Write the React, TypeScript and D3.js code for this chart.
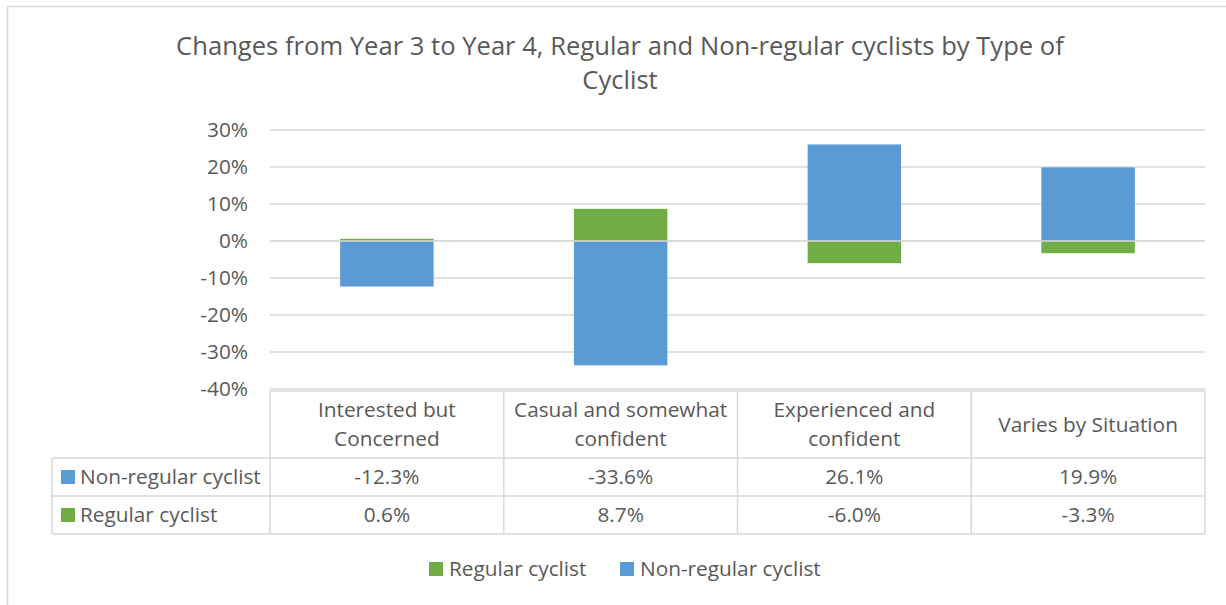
import React from "react";
import * as d3 from "d3";

const categories = [
  ["Interested but", "Concerned"],
  ["Casual and somewhat", "confident"],
  ["Experienced and", "confident"],
  ["Varies by Situation"],
];
const categoryKeys = ["Interested but Concerned", "Casual and somewhat confident", "Experienced and confident", "Varies by Situation"];
const nonRegular = [-0.123, -0.336, 0.261, 0.199];
const regular = [0.006, 0.087, -0.06, -0.033];
const yTicks = [0.3, 0.2, 0.1, 0, -0.1, -0.2, -0.3, -0.4];
const seriesNames = ["Non-regular cyclist", "Regular cyclist"];
const seriesColors = ["#5B9BD5", "#70AD47"];

const FONT = "'Open Sans', sans-serif";
const TXT = "#595959";
const GRID = "#D9D9D9";
const FS = 20.8;
const TFS = 25.6;

const locale = d3.formatLocale({ decimal: ".", thousands: ",", grouping: [3], currency: ["$", ""], minus: "-" });

export default function App() {
  const W = 1226, H = 605;
  const plotL = 270, plotR = 1205, plotT = 130, plotB = 389;
  const x = d3.scaleBand<string>().domain(categoryKeys).range([plotL, plotR]).padding(0);
  const y = d3.scaleLinear().domain([-0.4, 0.3]).range([plotB, plotT]);
  const barW = x.bandwidth() / 2.5;

  const rows = categoryKeys.map((k, i) => ({ key: k, nr: nonRegular[i], r: regular[i] }));
  const stack = d3.stack<any>().keys(["nr", "r"]).offset(d3.stackOffsetDiverging);
  const stacked = stack(rows);
  const pct = locale.format(".1%");
  const tickFmt = locale.format(".0%");

  const tableTop = 391, headBot = 458, row1Bot = 496, row2Bot = 534, tableL = 52;
  const seriesVals = [nonRegular, regular];
  const rowBounds = [[headBot, row1Bot], [row1Bot, row2Bot]];

  return (
    <svg width={W} height={H} style={{ position: "absolute", left: 0, top: 0, background: "#fff" }} fontFamily={FONT}>
      <rect x={7.5} y={6.5} width={1240} height={620} fill="#fff" stroke={GRID} strokeWidth={1.5} />
      <text x={620} y={55} textAnchor="middle" fontSize={TFS} fill={TXT}>
        Changes from Year 3 to Year 4, Regular and Non-regular cyclists by Type of
      </text>
      <text x={620} y={89} textAnchor="middle" fontSize={TFS} fill={TXT}>Cyclist</text>

      {yTicks.map((t) => (
        <g key={t}>
          <line x1={plotL} x2={plotR} y1={y(t)} y2={y(t)} stroke={GRID} strokeWidth={1.5} />
          <text x={248} y={y(t)} dy="0.35em" textAnchor="end" fontSize={FS} fill={TXT}>{tickFmt(t)}</text>
        </g>
      ))}

      {stacked.map((s, si) => (
        <g key={s.key} fill={seriesColors[si]}>
          {s.map((d: any, i: number) => (
            <rect key={i} x={(x(categoryKeys[i]) as number) + (x.bandwidth() - barW) / 2}
              y={y(Math.max(d[0], d[1]))} width={barW}
              height={Math.abs(y(d[0]) - y(d[1]))} />
          ))}
        </g>
      ))}
      <line x1={plotL} x2={plotR} y1={y(0)} y2={y(0)} stroke={GRID} strokeWidth={1.5} />

      {/* data table */}
      <g stroke={GRID} strokeWidth={1.5} fill="none">
        <line x1={plotL} x2={plotR} y1={tableTop} y2={tableTop} />
        {[headBot, row1Bot, row2Bot].map((yy) => (
          <line key={yy} x1={tableL} x2={plotR} y1={yy} y2={yy} />
        ))}
        <line x1={tableL} x2={tableL} y1={headBot} y2={row2Bot} />
        {categoryKeys.map((k) => (
          <line key={k} x1={x(k) as number} x2={x(k) as number} y1={tableTop} y2={row2Bot} />
        ))}
        <line x1={plotR} x2={plotR} y1={tableTop} y2={row2Bot} />
      </g>
      {categories.map((lines, i) => {
        const cx = (x(categoryKeys[i]) as number) + x.bandwidth() / 2;
        const cy = (tableTop + headBot) / 2;
        const lh = 29;
        return (
          <text key={i} x={cx} textAnchor="middle" fontSize={FS} fill={TXT}>
            {lines.map((l, j) => (
              <tspan key={j} x={cx} y={cy + (j - (lines.length - 1) / 2) * lh} dy="0.35em">{l}</tspan>
            ))}
          </text>
        );
      })}
      {seriesNames.map((name, si) => {
        const [a, b] = rowBounds[si];
        const cy = (a + b) / 2;
        return (
          <g key={name}>
            <rect x={61} y={cy - 7} width={14} height={14} fill={seriesColors[si]} />
            <text x={80} y={cy} dy="0.35em" fontSize={FS} fill={TXT}>{name}</text>
            {seriesVals[si].map((v, i) => (
              <text key={i} x={(x(categoryKeys[i]) as number) + x.bandwidth() / 2} y={cy} dy="0.35em"
                textAnchor="middle" fontSize={FS} fill={TXT}>{pct(v)}</text>
            ))}
          </g>
        );
      })}

      {/* legend */}
      <g>
        <rect x={429} y={562} width={14} height={14} fill={seriesColors[1]} />
        <text x={449} y={569} dy="0.35em" fontSize={FS} fill={TXT}>{seriesNames[1]}</text>
        <rect x={620} y={562} width={14} height={14} fill={seriesColors[0]} />
        <text x={640} y={569} dy="0.35em" fontSize={FS} fill={TXT}>{seriesNames[0]}</text>
      </g>
    </svg>
  );
}
